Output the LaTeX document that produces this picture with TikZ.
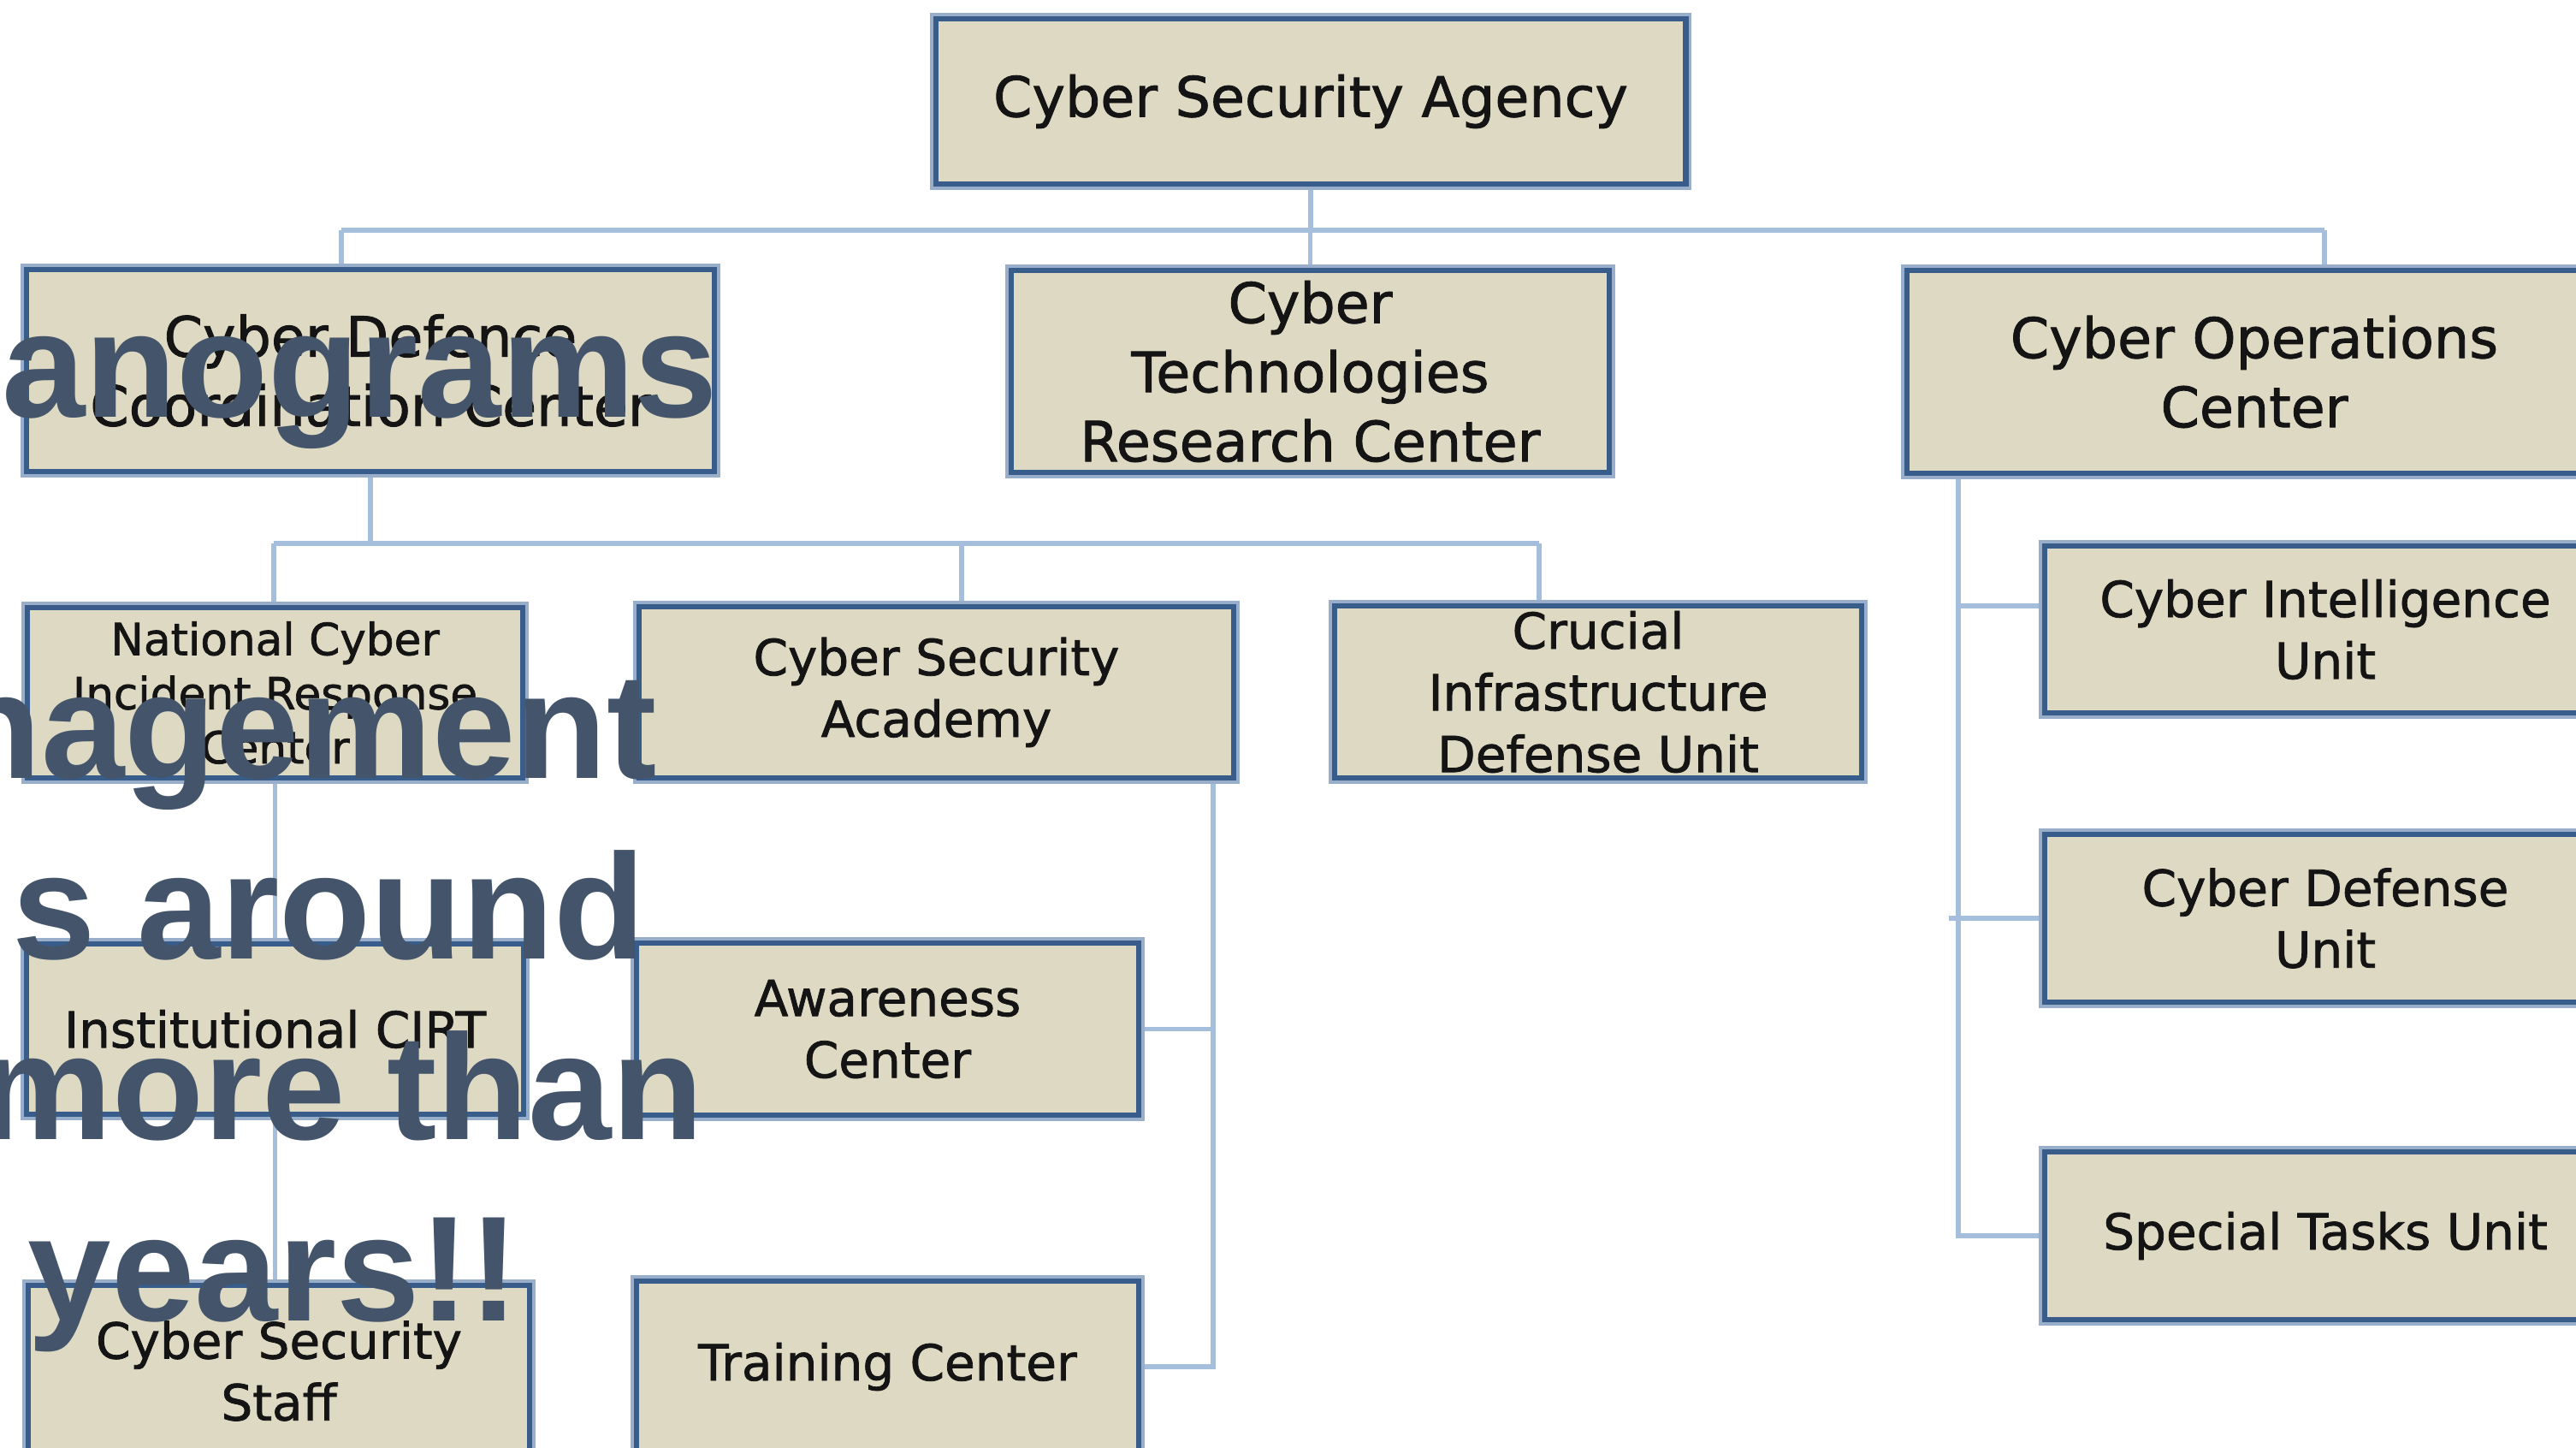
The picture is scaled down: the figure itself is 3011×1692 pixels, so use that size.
\documentclass[tikz,border=0pt]{standalone}
\usepackage{fontspec}
\setmainfont{DejaVu Sans}[UprightFeatures={FakeBold=1.3}]
\newfontfamily\ovfont{Liberation Sans}
\definecolor{boxfill}{HTML}{DDD9C3}
\definecolor{bordc}{HTML}{385D8A}
\definecolor{haloc}{HTML}{99AECA}
\definecolor{connc}{HTML}{A5BEDC}
\definecolor{txtc}{HTML}{141414}
\definecolor{ovc}{HTML}{44546A}
\pgfdeclarelayer{back}
\pgfdeclarelayer{bg}
\pgfsetlayers{back,bg,main}
\tikzset{
  box/.style={draw=bordc, line width=0.065cm, fill=boxfill,
    preaction={draw=haloc, line width=0.14cm},
    align=center, inner sep=0pt, text=txtc},
  fbig/.style={font=\fontsize{18.5}{23}\selectfont},
  fmid/.style={font=\fontsize{16.5}{20.5}\selectfont},
  fsml/.style={font=\fontsize{14.7}{18}\selectfont},
  conn/.style={draw=connc, line width=0.055cm},
  ovl/.style={inner sep=0pt, text=ovc, font=\ovfont\bfseries\fontsize{49.8}{60}\selectfont, anchor=base east}
}
\begin{document}
\begin{tikzpicture}[x=0.01cm, y=-0.01cm]
\useasboundingbox (0,0) rectangle (3011,1692);
\clip (0,0) rectangle (3011,1692);
\begin{pgfonlayer}{back}
\fill[white] (0,0) rectangle (3011,1692);
\end{pgfonlayer}

% level 0
\node[box, fbig, minimum width=8.76cm, minimum height=1.93cm] (agency) at (1532,118.5) {Cyber Security Agency};
% level 1
\node[box, fbig, minimum width=8.04cm, minimum height=2.36cm] (defence) at (433,433) {Cyber Defence\\Coordination Center};
\node[box, fbig, minimum width=6.99cm, minimum height=2.36cm] (tech) at (1531.5,434) {Cyber\\Technologies\\Research Center};
\node[box, fbig, minimum width=8.12cm, minimum height=2.37cm] (ops) at (2635,434.5) {Cyber Operations\\Center};
% level 2 (defence)
\node[box, fsml, minimum width=5.79cm, minimum height=1.99cm] (ncirc) at (321.5,809.5) {National Cyber\\Incident Response\\Center};
\node[box, fmid, minimum width=6.95cm, minimum height=2.00cm] (academy) at (1094.5,809) {Cyber Security\\Academy};
\node[box, fmid, minimum width=6.16cm, minimum height=2.01cm] (crucial) at (1868,808.5) {Crucial\\Infrastructure\\Defense Unit};
% ops children
\node[box, fmid, minimum width=6.56cm, minimum height=1.95cm] (intel) at (2718,735.5) {Cyber Intelligence\\Unit};
\node[box, fmid, minimum width=6.56cm, minimum height=1.96cm] (cdu) at (2718,1073) {Cyber Defense\\Unit};
\node[box, fmid, minimum width=6.56cm, minimum height=1.96cm] (special) at (2718,1444) {Special Tasks Unit};
% lower left
\node[box, fmid, minimum width=5.81cm, minimum height=1.99cm] (icirt) at (321.5,1202.5) {Institutional CIRT};
\node[box, fmid, minimum width=5.86cm, minimum height=2.00cm] (staff) at (326,1602) {Cyber Security\\Staff};
% academy children
\node[box, fmid, minimum width=5.87cm, minimum height=2.01cm] (awareness) at (1037.5,1202.5) {Awareness\\Center};
\node[box, fmid, minimum width=5.87cm, minimum height=2.00cm] (training) at (1037.5,1597) {Training Center};

% connectors
\coordinate (h1l) at (399,269);
\coordinate (h1r) at (2717,269);
\coordinate (h2l) at (320,635);
\coordinate (h2m) at (1124,635);
\coordinate (h2r) at (1799,635);
\coordinate (v3) at (1418,909);
\coordinate (v4) at (2289,553);
\coordinate (b1) at (2289,708);
\coordinate (b2) at (2278,1073);
\begin{pgfonlayer}{bg}
\draw[conn] (agency.south) -- (agency.south |- h1l);
\draw[conn] (h1l) -- (h1r);
\draw[conn] (h1l) -- (h1l |- defence.north);
\draw[conn] (tech.north |- h1l) -- (tech.north);
\draw[conn] (h1r) -- (h1r |- ops.north);
\draw[conn] (defence.south) -- (defence.south |- h2l);
\draw[conn] (h2l) -- (h2r);
\draw[conn] (h2l) -- (h2l |- ncirc.north);
\draw[conn] (h2m) -- (h2m |- academy.north);
\draw[conn] (h2r) -- (h2r |- crucial.north);
\draw[conn] (ncirc.south) -- (icirt.north);
\draw[conn] (icirt.south) -- (icirt.south |- staff.north);
\draw[conn] (academy.south -| v3) -- (v3 |- training.east) -- (training.east);
\draw[conn] (v3 |- awareness.east) -- (awareness.east);
\draw[conn] (ops.south -| v4) -- (v4 |- special.west) -- (special.west);
\draw[conn] (b1) -- (b1 -| intel.west);
\draw[conn] (b2) -- (cdu.west);
\end{pgfonlayer}

% overlay text
\node[ovl] (o1) at (840,488) {anograms};
\node[ovl] (o2) at (769,910) {nagement};
\node[ovl] (o3) at (755,1121) {s around};
\node[ovl] (o4) at (823,1332) {more than};
\node[ovl] (o5) at (608,1544) {years!!};
\end{tikzpicture}
\end{document}
